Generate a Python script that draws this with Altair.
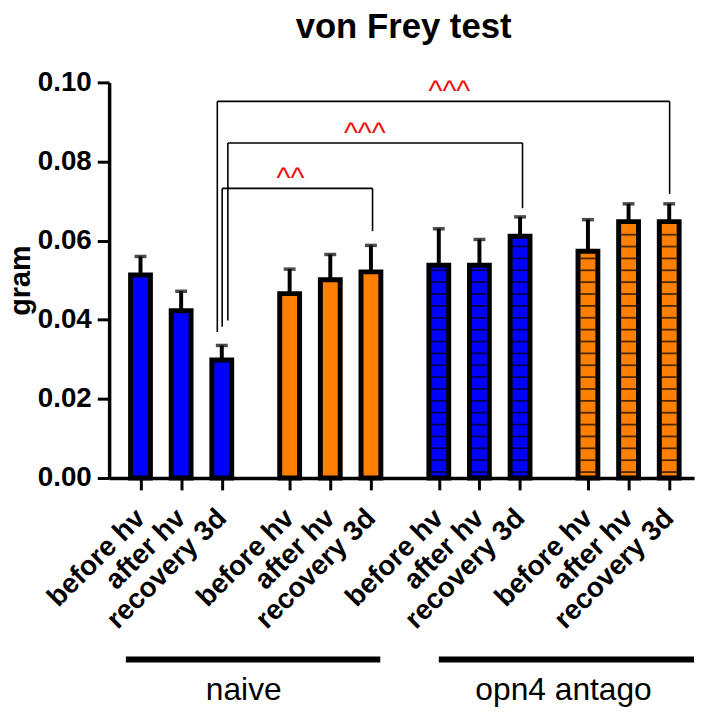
import altair as alt
import pandas as pd
import numpy as np

FONT = "Liberation Sans"

# ---- data ----
conditions = ["before hv", "after hv", "recovery 3d"]
group_fill = ["#0000ff", "#ff8000", "#0000ff", "#ff8000"]
group_striped = [False, False, True, True]
means = [0.0513, 0.0423, 0.0298, 0.0466, 0.0501, 0.0521,
         0.0538, 0.0538, 0.0611, 0.0573, 0.0648, 0.0648]
upper = [0.0560, 0.0472, 0.0335, 0.0528, 0.0565, 0.0588,
         0.0630, 0.0603, 0.0660, 0.0653, 0.0693, 0.0693]

# comparison brackets
br_left = [2.01, 2.15, 1.89]
br_right = [5.71, 9.40, 13.02]
br_top = [0.0732, 0.0847, 0.0952]
br_left_end = [0.0382, 0.0398, 0.0369]
br_right_end = [0.0624, 0.0682, 0.0718]
br_label_x = [3.69, 5.52, 7.60]
br_label = ["^^", "^^^", "^^^"]

# treatment group underlines
treat_names = ["naive", "opn4 antago"]
treat_x1 = [-0.36, 7.34]
treat_x2 = [5.90, 13.62]
treat_label_x = [2.54, 10.41]

GROUP_STEP = 3.67

rows = []
for k, m in enumerate(means):
    g, i = divmod(k, 3)
    rows.append(dict(pos=g * GROUP_STEP + i, cond=conditions[i], mean=m,
                     upper=upper[k], fill=group_fill[g], striped=group_striped[g]))
bars = pd.DataFrame(rows)

stripe_rows = []
for r in rows:
    if r["striped"]:
        for yv in np.arange(0.0015, r["mean"] - 0.001, 0.003):
            stripe_rows.append(dict(pos=r["pos"], y=yv))
stripes = pd.DataFrame(stripe_rows)

segs = []
for a, b, t, le, re_ in zip(br_left, br_right, br_top, br_left_end, br_right_end):
    segs.append(dict(x=a, x2=b, y=t, y2=t))
    segs.append(dict(x=a, x2=a, y=le, y2=t))
    segs.append(dict(x=b, x2=b, y=re_, y2=t))
segs = pd.DataFrame(segs)
blabels = pd.DataFrame(dict(x=br_label_x, y=br_top, label=br_label))
treat = pd.DataFrame(dict(name=treat_names, x1=treat_x1, x2=treat_x2, lx=treat_label_x))
title_df = pd.DataFrame(dict(t=["von Frey test"]))
ytitle_df = pd.DataFrame(dict(t=["gram"]))

W, H = 590, 399
xscale = alt.Scale(domain=[-0.65, 13.5], nice=False, zero=False)
yscale = alt.Scale(domain=[0, 0.1], nice=False)

label_expr = ("['before hv','after hv','recovery 3d'][round(datum.value - %s*floor((datum.value+0.5)/%s))]"
              % (GROUP_STEP, GROUP_STEP))

xaxis = alt.Axis(values=list(bars["pos"]), labelExpr=label_expr, labelAngle=315,
                 labelAlign="right", labelBaseline="middle", labelPadding=24,
                 labelFont=FONT, labelFontSize=28, labelFontWeight="bold", labelColor="black",
                 tickSize=12, tickWidth=3, tickColor="black", domainWidth=3.5, domainColor="black",
                 grid=False, title=None, labelOverlap=False, labelBound=False, labelFlush=False)
yaxis = alt.Axis(values=[0, 0.02, 0.04, 0.06, 0.08, 0.10], format=".2f",
                 labelFont=FONT, labelFontSize=28, labelFontWeight="bold", labelColor="black",
                 labelPadding=6, tickSize=12, tickWidth=3, tickColor="black",
                 domainWidth=3.5, domainColor="black", grid=False, title=None)

base = alt.Chart(bars)

err_stem = base.mark_rule(color="black", strokeWidth=4).encode(
    x=alt.X("pos:Q", scale=xscale, axis=xaxis),
    y=alt.Y("mean:Q", scale=yscale, axis=yaxis),
    y2="upper:Q")
err_cap = base.mark_tick(color="black", orient="horizontal", size=12, thickness=3.5).encode(
    x=alt.X("pos:Q", scale=xscale), y=alt.Y("upper:Q", scale=yscale))

bar_fill = base.mark_bar(orient="vertical", size=20, strokeWidth=0).encode(
    x=alt.X("pos:Q", scale=xscale), y=alt.Y("mean:Q", scale=yscale, stack=None),
    y2=alt.datum(0),
    fill=alt.Fill("fill:N", scale=None))

stripe_layer = alt.Chart(stripes).mark_tick(color="black", orient="horizontal", size=15,
                                            thickness=1.8).encode(
    x=alt.X("pos:Q", scale=xscale), y=alt.Y("y:Q", scale=yscale))

bar_stroke = base.mark_bar(orient="vertical", size=20, fillOpacity=0, stroke="black",
                           strokeWidth=5).encode(
    x=alt.X("pos:Q", scale=xscale), y=alt.Y("mean:Q", scale=yscale, stack=None),
    y2=alt.datum(0))

bracket = alt.Chart(segs).mark_rule(color="black", strokeWidth=1.6).encode(
    x=alt.X("x:Q", scale=xscale), x2="x2:Q",
    y=alt.Y("y:Q", scale=yscale), y2="y2:Q")

bracket_text = alt.Chart(blabels).mark_text(color="#ee1111", font=FONT, fontSize=30,
                                            baseline="alphabetic", align="center").encode(
    x=alt.X("x:Q", scale=xscale), y=alt.Y("y:Q", scale=yscale), text="label:N")

treat_line = alt.Chart(treat).mark_rule(color="black", strokeWidth=6).encode(
    x=alt.X("x1:Q", scale=xscale), x2="x2:Q", y=alt.value(582))

treat_text = alt.Chart(treat).mark_text(color="black", font=FONT, fontSize=32,
                                        baseline="alphabetic", align="center").encode(
    x=alt.X("lx:Q", scale=xscale), y=alt.value(623), text="name:N")

title = alt.Chart(title_df).mark_text(color="black", font=FONT, fontSize=35, fontWeight="bold",
                                      baseline="alphabetic", align="center").encode(
    x=alt.value(W / 2 + 2), y=alt.value(-45), text="t:N")

ytitle = alt.Chart(ytitle_df).mark_text(color="black", font=FONT, fontSize=29, fontWeight="bold",
                                        baseline="alphabetic", align="center", angle=270).encode(
    x=alt.value(-80), y=alt.value(200), text="t:N")

chart = alt.layer(err_stem, err_cap, bar_fill, stripe_layer, bar_stroke, bracket,
                  bracket_text, treat_line, treat_text, title, ytitle).properties(
    width=W, height=H,
    autosize=alt.AutoSizeParams(type="none"),
    padding={"left": 102, "top": 72, "right": 10, "bottom": 234},
    background="white",
).configure_view(stroke=None)

chart.save("out.html", embed_options={"renderer": "svg", "actions": False})
